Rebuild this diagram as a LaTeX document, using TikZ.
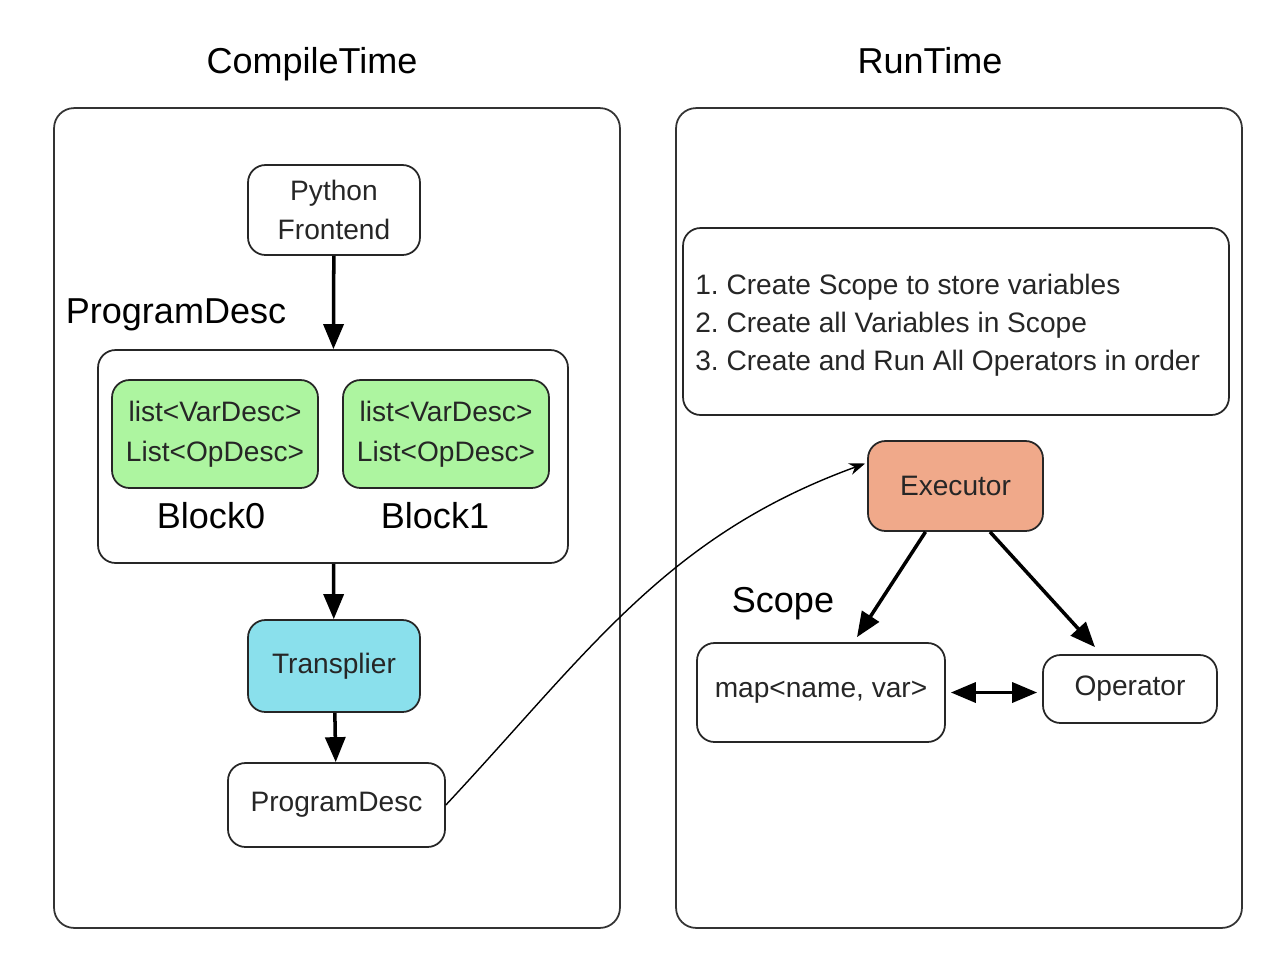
\documentclass[tikz,border=0pt]{standalone}
\usepackage{fontspec}
\setmainfont{Liberation Sans}
\usepackage{xcolor}
\usepackage{tikz}
\usetikzlibrary{positioning, arrows.meta, shapes, calc}
\definecolor{blockgreen}{RGB}{173,245,160}
\definecolor{transcyan}{RGB}{138,224,236}
\definecolor{execorange}{RGB}{240,169,138}

\begin{document}
\begin{tikzpicture}[
        x=0.02cm, y=-0.02cm,
        panel/.style={rectangle, rounded corners=0.4cm, draw=black!80, line width=1pt, minimum width=11.32cm, minimum height=16.4cm},
        box/.style={rectangle, rounded corners=0.35cm, draw=black!85, line width=1pt, align=center, text=black!85, font=\fontsize{16}{22}\selectfont},
        title/.style={font=\fontsize{20.5}{24}\selectfont, anchor=base},
        flow/.style={line width=2pt, -{Triangle[length=0.5cm,width=0.4cm]}},
        link/.style={line width=0.8pt, -{Stealth[length=0.32cm,width=0.24cm]}}
    ]
    \useasboundingbox (0,0) rectangle (1286,958);

    % two halves of the picture
    \node[title] (ctitle) at (312,73) {CompileTime};
    \node[title] (rtitle) at (930,73) {RunTime};
    \node[panel] (compile) at (337,518) {};
    \node[panel] (runtime) at (959,518) {};

    \node[box, minimum width=3.44cm, minimum height=1.8cm] (python) at (334,210) {Python\\Frontend};
    \node[title] (desclabel) at (176,323) {ProgramDesc};
    \node[box, minimum width=9.4cm, minimum height=4.26cm] (prog) at (333,456.5) {};
    \foreach \i/\x/\lx in {0/215/211, 1/446/435} {
        \node[box, fill=blockgreen, minimum width=4.12cm, minimum height=2.16cm, font=\fontsize{16}{22.7}\selectfont] (blk\i) at (\x,434) {list<VarDesc>\\List<OpDesc>};
        \node[title] (blklabel\i) at (\lx,528) {Block\i};
    }
    \node[box, fill=transcyan, minimum width=3.44cm, minimum height=1.84cm] (transp) at (334,666) {Transplier};
    \node[box, minimum width=4.34cm, minimum height=1.68cm] (pdesc) at (336.5,805) {ProgramDesc};

    \draw[flow] (python) -- (prog);
    \draw[flow] (prog) -- (transp);
    \draw[flow] (transp) -- (pdesc);

    \node[box, minimum width=10.92cm, minimum height=3.74cm] (steps) at (956,321.5) {};
    \node[align=left, anchor=west, inner sep=0pt, text=black!85, font=\fontsize{16}{21.6}\selectfont\frenchspacing] (stepstext) at (695,325)
        {1. Create Scope to store variables\\2. Create all Variables in Scope\\3. Create and Run All Operators in order};
    \node[box, fill=execorange, minimum width=3.5cm, minimum height=1.8cm] (exec) at (955.5,486) {Executor};
    \node[title] (scopelabel) at (783,612) {Scope};
    \node[box, minimum width=4.96cm, minimum height=1.98cm] (map) at (821,692.5) {map<name, var>};
    \node[box, minimum width=3.48cm, minimum height=1.36cm] (op) at (1130,689) {Operator};

    \draw[flow] ([xshift=-0.6cm]exec.south) -- ([xshift=0.72cm, yshift=0.1cm]map.north);
    \draw[flow] ([xshift=0.69cm]exec.south) -- ([xshift=-0.7cm, yshift=0.14cm]op.north);
    \draw[flow, {Triangle[length=0.5cm,width=0.4cm]}-{Triangle[length=0.5cm,width=0.4cm]}, shorten <=0.1cm, shorten >=0.1cm] (map.east) -- (map.east -| op.west);
    \draw[link] (pdesc.east) to[out=47, in=200] ([yshift=0.45cm, xshift=-0.04cm]exec.west);
\end{tikzpicture}
\end{document}
